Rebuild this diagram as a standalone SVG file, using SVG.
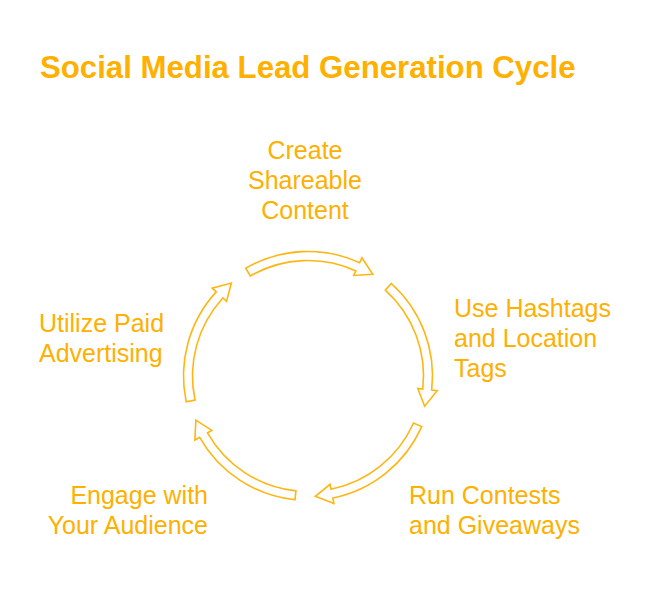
<svg xmlns="http://www.w3.org/2000/svg" width="662" height="602" viewBox="0 0 662 602">
<style>
text{font-family:"Liberation Sans",Arial,sans-serif;fill:#FFB000}
.t{font-size:25px}
.title{font-size:31.2px;font-weight:bold}
.arr{fill:#fff;stroke:#FFB614;stroke-width:1.6;stroke-linejoin:miter}
</style>
<rect width="662" height="602" fill="#fff"/>
<text class="title" x="40" y="78">Social Media Lead Generation Cycle</text>
<g id="connectors">
<path class="arr" d="M245.75,268.18 A124.5,124.5 0 0 1 359.63,262.71 L361.91,257.71 L372.74,274.37 L353.82,275.45 L355.90,270.90 A115.5,115.5 0 0 0 250.25,275.97 Z"/>
<path class="arr" d="M391.31,283.48 A124.5,124.5 0 0 1 431.70,390.09 L437.16,390.72 L424.66,406.17 L417.79,388.51 L422.76,389.07 A115.5,115.5 0 0 0 385.28,290.17 Z"/>
<path class="arr" d="M421.74,426.64 A124.5,124.5 0 0 1 332.82,498.00 L333.92,503.39 L315.36,496.27 L330.03,484.28 L331.03,489.18 A115.5,115.5 0 0 0 413.51,422.98 Z"/>
<path class="arr" d="M294.99,499.82 A124.5,124.5 0 0 1 199.64,437.31 L194.85,440.01 L195.88,420.16 L211.82,430.41 L207.47,432.87 A115.5,115.5 0 0 0 295.93,490.87 Z"/>
<path class="arr" d="M186.22,401.88 A124.5,124.5 0 0 1 216.21,291.89 L212.15,288.17 L231.35,283.02 L226.53,301.35 L222.84,297.97 A115.5,115.5 0 0 0 195.02,400.01 Z"/>
</g>
<g id="create">
<text class="t" x="305" y="159" text-anchor="middle">Create</text>
<text class="t" x="305" y="189" text-anchor="middle">Shareable</text>
<text class="t" x="305" y="219" text-anchor="middle">Content</text>
</g>
<g id="hashtags">
<text class="t" x="454" y="317">Use Hashtags</text>
<text class="t" x="454" y="347">and Location</text>
<text class="t" x="454" y="377">Tags</text>
</g>
<g id="contests">
<text class="t" x="409" y="504">Run Contests</text>
<text class="t" x="409" y="534">and Giveaways</text>
</g>
<g id="engage">
<text class="t" x="208" y="504" text-anchor="end">Engage with</text>
<text class="t" x="208" y="534" text-anchor="end">Your Audience</text>
</g>
<g id="paid">
<text class="t" x="39" y="332">Utilize Paid</text>
<text class="t" x="39" y="362">Advertising</text>
</g>
</svg>
